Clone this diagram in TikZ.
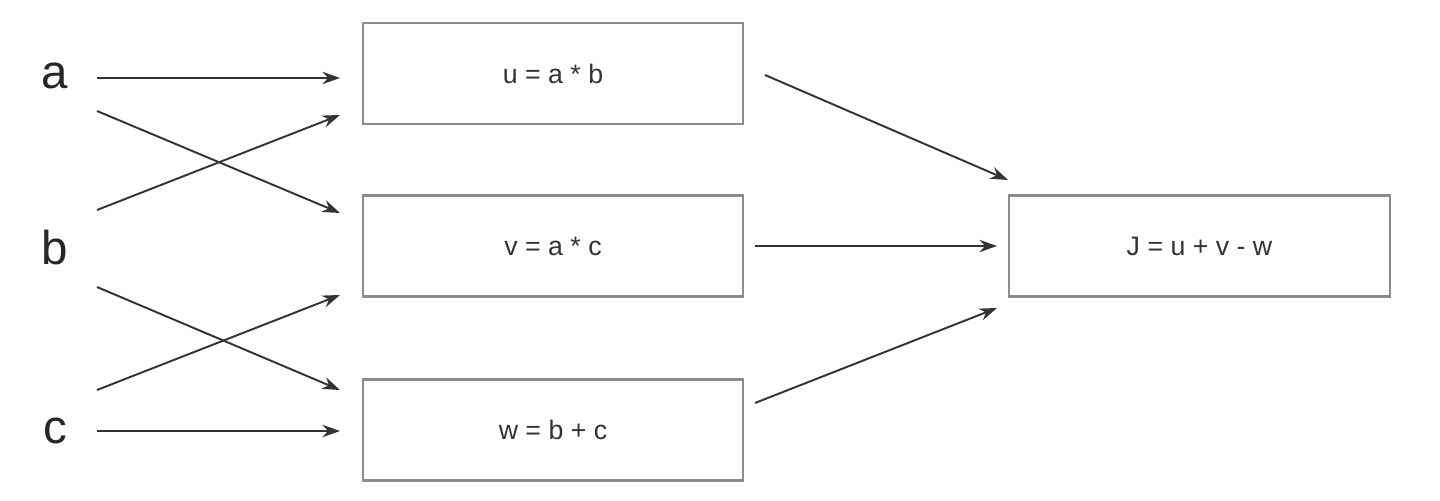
\documentclass[tikz,border=0pt]{standalone}
\usepackage{fontspec}
\setmainfont{Liberation Sans}
\usetikzlibrary{arrows.meta}
\begin{document}
\begin{tikzpicture}[x=0.01cm,y=-0.01cm,
  box/.style={draw=black!45,line width=0.6pt,minimum width=3.8cm,minimum height=1.01cm,inner sep=0pt,font=\fontsize{7.6}{9}\selectfont,text=black!80},
  var/.style={font=\fontsize{13.5}{15}\selectfont,text=black!85},
  arr/.style={draw=black!80,line width=0.55pt,-{Stealth[length=5pt,width=3.5pt]}}]
\useasboundingbox (0,0) rectangle (1440,501);
\node[box] (u) at (553,73.5) {u = a * b};
\node[box] (v) at (553,246) {v = a * c};
\node[box] (w) at (553,430) {w = b + c};
\node[box] (J) at (1199.5,246) {J = u + v - w};
\node[var] (a) at (55,76) {a};
\node[var] (b) at (55,248) {b};
\node[var] (c) at (55,431) {c};
\coordinate (a1) at (97,78); \coordinate (a2) at (97,111);
\coordinate (b1) at (97,210); \coordinate (b2) at (97,287);
\coordinate (c1) at (97,390); \coordinate (c2) at (97,431);
\coordinate (u1) at (340,78); \coordinate (u2) at (340,115);
\coordinate (v1) at (340,213); \coordinate (v2) at (340,295);
\coordinate (w1) at (340,390); \coordinate (w2) at (340,431);
\coordinate (uo) at (765,75); \coordinate (vo) at (755,246); \coordinate (wo) at (755,403);
\coordinate (j1) at (1008,180); \coordinate (j2) at (997,246); \coordinate (j3) at (997,308);
\draw[arr] (a1) -- (u1);
\draw[arr] (a2) -- (v1);
\draw[arr] (b1) -- (u2);
\draw[arr] (b2) -- (w1);
\draw[arr] (c1) -- (v2);
\draw[arr] (c2) -- (w2);
\draw[arr] (uo) -- (j1);
\draw[arr] (vo) -- (j2);
\draw[arr] (wo) -- (j3);
\end{tikzpicture}
\end{document}
